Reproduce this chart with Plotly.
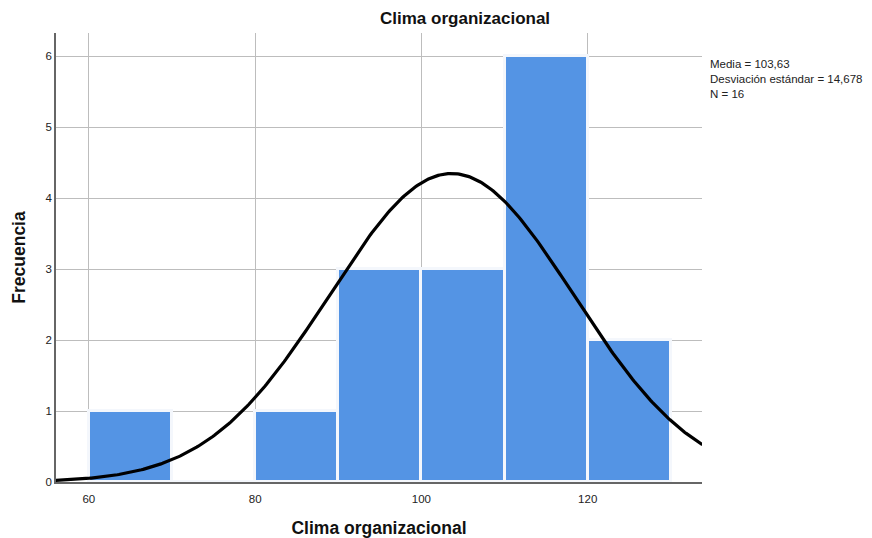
import numpy as np
import plotly.graph_objects as go

# Data
bin_starts = [60, 70, 80, 90, 100, 110, 120]
bin_width = 10
frequencies = [1, 0, 1, 3, 3, 6, 2]
mean_val = 103.63
sd_val = 14.678
n_val = 16
x_ticks = [60, 80, 100, 120]
y_ticks = [0, 1, 2, 3, 4, 5, 6]

centers = [b + bin_width / 2 for b in bin_starts]

# Fitted normal curve (as drawn by SPSS from the stated mean / sd / N)
xs = np.linspace(56.0, 133.8, 400)
ys = n_val * bin_width / (sd_val * np.sqrt(2 * np.pi)) * np.exp(-0.5 * ((xs - mean_val) / sd_val) ** 2)

fig = go.Figure()
fig.add_trace(go.Bar(
    x=centers, y=frequencies, width=bin_width,
    marker=dict(color="#5494e4", line=dict(color="#f4f7fc", width=3)),
    hoverinfo="x+y", showlegend=False,
))
fig.add_trace(go.Scatter(
    x=xs, y=ys, mode="lines",
    line=dict(color="black", width=3.2), showlegend=False, hoverinfo="skip",
))

font_family = "Liberation Sans, Arial, sans-serif"
fig.update_layout(
    width=864, height=530,
    margin=dict(l=48, r=170, t=25, b=56),
    paper_bgcolor="white", plot_bgcolor="white",
    font=dict(family=font_family, color="#222", size=11),
    bargap=0,
    title=dict(text="<b>Clima organizacional</b>", x=0.529, xanchor="center",
               y=0.981, yanchor="middle", font=dict(size=17, color="#111"),
               automargin=False),
    xaxis=dict(range=[56.05, 133.75], tickvals=x_ticks, showgrid=True,
               gridcolor="#bdbdbd", gridwidth=1.2, zeroline=False,
               showline=True, linecolor="#666", linewidth=1.5,
               ticks="", tickfont=dict(size=11.5, color="#222"), automargin=False,
               ticklabelstandoff=5,
               title=dict(text="<b>Clima organizacional</b>", standoff=18,
                          font=dict(size=17.5, color="#111"))),
    yaxis=dict(range=[0, 6.33], tickvals=y_ticks, showgrid=True,
               gridcolor="#bdbdbd", gridwidth=1.2, zeroline=False,
               showline=True, linecolor="#666", linewidth=1.5,
               ticks="", tickfont=dict(size=11.5, color="#222"), automargin=False,
               title=dict(text="<b>Frecuencia</b>", standoff=15,
                          font=dict(size=17.5, color="#111"))),
    annotations=[dict(
        text="Media = 103,63<br>Desviación estándar = 14,678<br>N = 16",
        xref="paper", yref="paper", x=1.009, y=0.948, xanchor="left", yanchor="top",
        align="left", showarrow=False, font=dict(size=11.5, color="#222"),
    )],
)

fig.write_html("out.html")
